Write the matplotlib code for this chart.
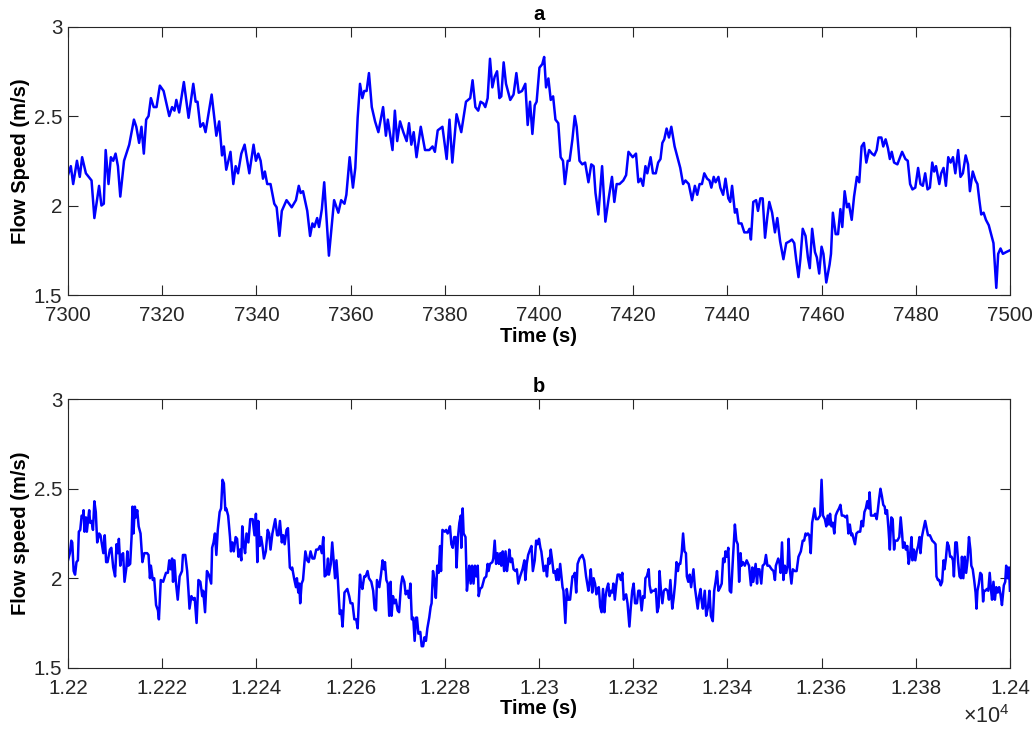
import matplotlib
matplotlib.use('Agg')
import matplotlib.pyplot as plt
from matplotlib.ticker import FuncFormatter

# flow speed trace, panel a: (time s, speed m/s)
flow_a = [
    (7300.0, 2.17), (7300.6, 2.22), (7301.1, 2.12), (7301.9, 2.25), (7302.5, 2.16),
    (7303.0, 2.27), (7303.8, 2.18), (7305.0, 2.14), (7305.6, 1.93), (7306.6, 2.11),
    (7307.1, 2.00), (7307.6, 2.01), (7308.0, 2.31), (7308.6, 2.12), (7309.1, 2.27),
    (7309.6, 2.25), (7310.1, 2.29), (7310.6, 2.22), (7311.1, 2.05), (7311.9, 2.25),
    (7313.0, 2.34), (7314.0, 2.48), (7314.5, 2.44), (7315.1, 2.35), (7315.6, 2.44),
    (7316.1, 2.29), (7316.6, 2.48), (7317.1, 2.50), (7317.6, 2.60), (7318.2, 2.55),
    (7318.8, 2.55), (7319.5, 2.67), (7320.3, 2.64), (7321.5, 2.50), (7322.1, 2.55),
    (7322.6, 2.53), (7323.0, 2.59), (7323.6, 2.52), (7324.6, 2.69), (7325.6, 2.49),
    (7326.6, 2.68), (7327.1, 2.58), (7327.5, 2.58), (7328.1, 2.44), (7328.7, 2.46),
    (7329.2, 2.41), (7330.5, 2.62), (7331.5, 2.39), (7332.1, 2.47), (7332.7, 2.28),
    (7333.1, 2.33), (7333.6, 2.20), (7334.5, 2.30), (7335.1, 2.12), (7335.6, 2.22),
    (7336.1, 2.18), (7336.8, 2.29), (7337.5, 2.34), (7338.5, 2.18), (7339.4, 2.34),
    (7339.9, 2.25), (7340.4, 2.29), (7340.9, 2.25), (7341.4, 2.15), (7341.8, 2.19),
    (7342.3, 2.12), (7343.0, 2.12), (7343.8, 2.01), (7344.3, 1.99), (7344.9, 1.83),
    (7345.4, 1.97), (7346.4, 2.03), (7347.5, 1.99), (7348.4, 2.03), (7349.0, 2.11),
    (7349.4, 2.07), (7349.9, 2.08), (7350.8, 1.97), (7351.4, 1.83), (7351.9, 1.90),
    (7352.3, 1.88), (7352.9, 1.93), (7353.3, 1.88), (7353.9, 1.98), (7354.4, 2.13),
    (7355.4, 1.72), (7356.5, 2.03), (7357.4, 1.96), (7358.0, 2.03), (7358.7, 2.01),
    (7359.1, 2.06), (7359.8, 2.27), (7360.5, 2.10), (7361.0, 2.21), (7361.5, 2.49),
    (7362.0, 2.68), (7362.5, 2.60), (7362.9, 2.64), (7363.4, 2.64), (7363.9, 2.74),
    (7364.5, 2.55), (7365.2, 2.47), (7365.9, 2.41), (7366.9, 2.55), (7367.5, 2.39),
    (7367.9, 2.48), (7368.9, 2.31), (7369.4, 2.53), (7369.9, 2.36), (7370.5, 2.47),
    (7371.2, 2.41), (7371.9, 2.36), (7372.4, 2.46), (7372.9, 2.34), (7373.4, 2.41),
    (7374.0, 2.27), (7374.9, 2.44), (7375.8, 2.31), (7376.7, 2.31), (7377.4, 2.33),
    (7377.9, 2.30), (7378.5, 2.42), (7379.5, 2.44), (7380.4, 2.26), (7381.0, 2.48),
    (7381.6, 2.24), (7382.5, 2.51), (7383.5, 2.41), (7384.5, 2.58), (7385.4, 2.60),
    (7385.9, 2.70), (7386.5, 2.55), (7387.1, 2.53), (7387.6, 2.58), (7388.2, 2.57),
    (7388.6, 2.55), (7389.1, 2.60), (7389.6, 2.82), (7390.1, 2.66), (7390.6, 2.72),
    (7391.1, 2.75), (7391.6, 2.60), (7392.0, 2.61), (7392.5, 2.80), (7393.0, 2.68),
    (7393.9, 2.59), (7394.6, 2.62), (7395.2, 2.74), (7395.7, 2.63), (7396.4, 2.64),
    (7397.1, 2.68), (7397.6, 2.45), (7398.1, 2.58), (7398.6, 2.40), (7399.1, 2.56),
    (7399.5, 2.58), (7400.1, 2.77), (7400.7, 2.79), (7401.1, 2.83), (7401.5, 2.66),
    (7402.0, 2.71), (7402.5, 2.59), (7403.0, 2.61), (7403.5, 2.48), (7404.1, 2.46),
    (7404.6, 2.27), (7405.1, 2.25), (7405.5, 2.12), (7406.1, 2.25), (7406.5, 2.25),
    (7407.1, 2.37), (7407.6, 2.50), (7408.0, 2.44), (7408.6, 2.25), (7409.2, 2.23),
    (7409.8, 2.24), (7410.5, 2.13), (7411.1, 2.23), (7411.6, 2.22), (7412.0, 2.07),
    (7412.6, 1.95), (7413.4, 2.22), (7414.1, 1.91), (7414.8, 2.04), (7415.5, 2.16),
    (7416.0, 2.02), (7416.5, 2.12), (7417.1, 2.12), (7417.9, 2.14), (7418.5, 2.17),
    (7419.0, 2.30), (7419.6, 2.28), (7419.9, 2.27), (7420.6, 2.29), (7421.1, 2.13),
    (7421.6, 2.15), (7422.1, 2.11), (7422.6, 2.22), (7423.0, 2.18), (7423.7, 2.27),
    (7424.2, 2.18), (7424.8, 2.18), (7425.3, 2.24), (7425.8, 2.26), (7426.2, 2.35),
    (7426.6, 2.37), (7427.1, 2.43), (7427.6, 2.38), (7428.1, 2.44), (7428.8, 2.33),
    (7429.5, 2.26), (7430.0, 2.21), (7430.6, 2.12), (7431.1, 2.14), (7431.8, 2.12),
    (7432.5, 2.03), (7433.1, 2.11), (7433.6, 2.06), (7434.1, 2.12), (7434.6, 2.12),
    (7435.1, 2.18), (7435.7, 2.15), (7436.2, 2.14), (7436.6, 2.10), (7437.1, 2.16),
    (7437.5, 2.13), (7438.1, 2.16), (7438.5, 2.10), (7439.1, 2.06), (7439.6, 2.15),
    (7440.2, 2.04), (7440.6, 2.02), (7441.0, 2.11), (7441.6, 1.96), (7442.0, 1.98),
    (7442.4, 1.90), (7443.0, 1.90), (7443.6, 1.85), (7444.3, 1.85), (7444.7, 1.87),
    (7445.0, 1.81), (7445.5, 2.02), (7446.1, 2.03), (7446.5, 1.97), (7447.0, 2.04),
    (7447.5, 2.04), (7448.0, 1.82), (7448.5, 1.94), (7448.9, 2.02), (7449.5, 1.96),
    (7450.1, 1.85), (7450.6, 1.93), (7451.2, 1.80), (7451.9, 1.70), (7452.5, 1.79),
    (7453.2, 1.80), (7453.7, 1.81), (7454.2, 1.79), (7454.6, 1.70), (7455.1, 1.60),
    (7455.5, 1.70), (7456.0, 1.87), (7456.6, 1.83), (7457.1, 1.71), (7457.5, 1.65),
    (7458.0, 1.87), (7458.6, 1.74), (7459.0, 1.71), (7459.5, 1.62), (7460.0, 1.77),
    (7460.4, 1.73), (7461.0, 1.57), (7461.7, 1.67), (7462.0, 1.73), (7462.4, 1.96),
    (7463.0, 1.84), (7463.5, 1.84), (7464.0, 1.98), (7464.4, 1.88), (7464.9, 2.08),
    (7465.4, 1.99), (7465.8, 2.01), (7466.4, 1.92), (7466.9, 2.05), (7467.5, 2.16),
    (7468.0, 2.13), (7468.5, 2.33), (7469.0, 2.35), (7469.5, 2.24), (7470.1, 2.31),
    (7470.7, 2.29), (7471.2, 2.28), (7471.7, 2.31), (7472.1, 2.38), (7472.7, 2.38),
    (7473.1, 2.33), (7473.6, 2.37), (7474.1, 2.32), (7474.5, 2.26), (7474.9, 2.30),
    (7475.4, 2.24), (7476.1, 2.23), (7477.1, 2.30), (7477.8, 2.26), (7478.3, 2.25),
    (7478.8, 2.12), (7479.3, 2.09), (7479.9, 2.10), (7480.5, 2.21), (7481.0, 2.12),
    (7481.5, 2.11), (7482.0, 2.18), (7482.5, 2.09), (7483.0, 2.10), (7483.5, 2.24),
    (7483.9, 2.19), (7484.3, 2.22), (7485.0, 2.12), (7485.4, 2.18), (7485.9, 2.21),
    (7486.4, 2.11), (7486.9, 2.27), (7487.4, 2.24), (7487.9, 2.27), (7488.4, 2.18),
    (7489.0, 2.31), (7489.5, 2.16), (7490.0, 2.18), (7490.6, 2.28), (7491.1, 2.23),
    (7491.5, 2.08), (7492.1, 2.19), (7492.7, 2.14), (7493.1, 2.12), (7493.5, 2.03),
    (7493.9, 1.95), (7494.4, 1.96), (7494.9, 1.92), (7495.5, 1.89), (7496.0, 1.84),
    (7496.5, 1.79), (7497.1, 1.54), (7497.5, 1.73), (7498.0, 1.76), (7498.5, 1.73),
    (7499.2, 1.74), (7500.0, 1.75),
]

# flow speed trace, panel b: (time s, speed m/s)
flow_b = [
    (12200.0, 2.10), (12200.4, 2.14), (12200.7, 2.21), (12200.9, 2.20), (12201.2, 2.04),
    (12201.5, 2.02), (12201.8, 2.09), (12202.1, 2.10), (12202.3, 2.26), (12202.6, 2.27),
    (12202.9, 2.35), (12203.2, 2.34), (12203.3, 2.38), (12203.5, 2.26), (12203.8, 2.34),
    (12204.0, 2.26), (12204.3, 2.33), (12204.5, 2.38), (12204.7, 2.31), (12205.0, 2.32),
    (12205.3, 2.27), (12205.6, 2.43), (12205.9, 2.37), (12206.2, 2.20), (12206.6, 2.25),
    (12206.9, 2.24), (12207.2, 2.19), (12207.5, 2.14), (12207.8, 2.24), (12208.1, 2.09),
    (12208.4, 2.09), (12208.9, 2.16), (12209.2, 2.17), (12209.6, 2.06), (12210.0, 2.01),
    (12210.3, 2.19), (12210.6, 2.14), (12210.8, 2.22), (12211.1, 2.07), (12211.4, 2.13),
    (12211.7, 2.14), (12212.0, 1.98), (12212.4, 2.06), (12212.6, 2.15), (12212.8, 2.07),
    (12213.2, 2.08), (12213.5, 2.23), (12213.7, 2.40), (12213.9, 2.25), (12214.2, 2.40),
    (12214.4, 2.34), (12214.7, 2.38), (12215.0, 2.29), (12215.4, 2.25), (12215.8, 2.09),
    (12216.2, 2.14), (12216.8, 2.14), (12217.1, 2.13), (12217.4, 2.00), (12217.6, 2.07),
    (12218.0, 1.99), (12218.3, 2.00), (12218.7, 1.85), (12219.1, 1.82), (12219.3, 1.77),
    (12219.7, 1.99), (12220.2, 1.98), (12220.8, 2.03), (12221.2, 2.03), (12221.5, 2.10),
    (12221.8, 2.05), (12222.1, 2.11), (12222.3, 1.98), (12222.6, 2.10), (12222.9, 1.98),
    (12223.3, 1.88), (12223.7, 2.01), (12224.2, 2.04), (12224.4, 2.13), (12224.9, 2.13),
    (12225.3, 2.04), (12225.6, 1.92), (12225.8, 1.83), (12226.2, 1.90), (12226.6, 1.88),
    (12226.9, 1.89), (12227.3, 1.75), (12227.7, 1.99), (12228.1, 1.98), (12228.5, 1.90),
    (12228.7, 1.93), (12229.1, 1.81), (12229.5, 2.04), (12229.9, 2.02), (12230.4, 1.97),
    (12230.6, 2.17), (12230.9, 2.20), (12231.2, 2.25), (12231.5, 2.13), (12231.8, 2.27),
    (12232.2, 2.37), (12232.5, 2.39), (12232.8, 2.55), (12233.1, 2.53), (12233.4, 2.38),
    (12233.6, 2.39), (12234.0, 2.35), (12234.4, 2.23), (12234.6, 2.15), (12234.9, 2.20),
    (12235.2, 2.15), (12235.6, 2.23), (12235.9, 2.22), (12236.2, 2.12), (12236.5, 2.16),
    (12236.8, 2.10), (12237.0, 2.29), (12237.3, 2.19), (12237.6, 2.14), (12237.9, 2.25),
    (12238.3, 2.20), (12238.7, 2.33), (12239.2, 2.33), (12239.6, 2.24), (12239.9, 2.36),
    (12240.2, 2.09), (12240.4, 2.32), (12240.7, 2.18), (12241.0, 2.23), (12241.3, 2.18),
    (12241.6, 2.11), (12242.0, 2.15), (12242.4, 2.27), (12242.7, 2.25), (12243.0, 2.16),
    (12243.4, 2.25), (12244.0, 2.33), (12244.4, 2.24), (12244.7, 2.24), (12245.0, 2.32),
    (12245.4, 2.20), (12245.7, 2.24), (12246.0, 2.19), (12246.4, 2.27), (12246.7, 2.28),
    (12247.1, 2.06), (12247.4, 2.05), (12247.6, 2.06), (12248.0, 2.00), (12248.4, 1.95),
    (12248.6, 2.00), (12248.9, 1.92), (12249.1, 1.97), (12249.3, 1.86), (12249.6, 1.97),
    (12249.9, 1.99), (12250.4, 2.15), (12250.8, 2.10), (12251.1, 2.09), (12251.5, 2.15),
    (12251.9, 2.11), (12252.3, 2.11), (12252.7, 2.16), (12253.1, 2.16), (12253.5, 2.18),
    (12253.9, 2.14), (12254.2, 2.23), (12254.5, 2.01), (12254.9, 2.02), (12255.2, 2.11),
    (12255.4, 2.02), (12255.8, 2.08), (12256.1, 2.20), (12256.4, 2.10), (12256.7, 2.00),
    (12257.0, 2.10), (12257.3, 1.99), (12257.7, 1.80), (12258.0, 1.82), (12258.3, 1.73),
    (12258.7, 1.92), (12259.0, 1.93), (12259.3, 1.94), (12259.7, 1.90), (12260.0, 1.86),
    (12260.4, 1.86), (12260.8, 1.77), (12261.2, 1.77), (12261.5, 1.72), (12262.0, 2.02),
    (12262.2, 1.97), (12262.5, 1.94), (12262.9, 2.01), (12263.2, 2.01), (12263.6, 2.04),
    (12263.9, 2.00), (12264.4, 1.98), (12264.8, 1.93), (12265.1, 1.83), (12265.4, 1.82),
    (12265.6, 1.99), (12266.1, 1.95), (12266.5, 2.03), (12266.8, 2.10), (12267.1, 2.05),
    (12267.3, 2.09), (12267.6, 1.99), (12267.9, 1.97), (12268.2, 1.79), (12268.5, 1.98),
    (12268.7, 1.79), (12269.0, 1.90), (12269.3, 1.86), (12269.6, 1.88), (12270.0, 1.82),
    (12270.3, 1.81), (12270.7, 1.96), (12271.0, 2.01), (12271.4, 1.98), (12271.7, 1.91),
    (12272.1, 1.93), (12272.4, 1.89), (12272.7, 1.97), (12273.0, 1.77), (12273.3, 1.78),
    (12273.6, 1.65), (12273.9, 1.78), (12274.1, 1.78), (12274.4, 1.69), (12274.8, 1.70),
    (12275.1, 1.62), (12275.4, 1.62), (12275.7, 1.67), (12276.0, 1.65), (12276.3, 1.72),
    (12276.7, 1.78), (12277.0, 1.84), (12277.2, 1.86), (12277.5, 2.04), (12277.8, 1.99),
    (12278.1, 1.89), (12278.4, 2.07), (12278.7, 2.03), (12279.0, 2.18), (12279.2, 2.04),
    (12279.5, 2.27), (12280.0, 2.26), (12280.3, 2.27), (12280.6, 2.25), (12280.8, 2.26),
    (12281.1, 2.29), (12281.4, 2.19), (12281.7, 2.17), (12282.0, 2.23), (12282.3, 2.23),
    (12282.5, 2.06), (12282.8, 2.23), (12283.1, 2.31), (12283.4, 2.35), (12283.5, 2.17),
    (12283.8, 2.39), (12284.0, 2.25), (12284.4, 2.23), (12284.7, 1.93), (12285.0, 2.01),
    (12285.2, 2.07), (12285.5, 1.97), (12285.8, 2.07), (12286.1, 1.97), (12286.4, 2.07),
    (12286.7, 2.01), (12287.0, 2.07), (12287.2, 1.90), (12287.5, 1.94), (12287.9, 1.95),
    (12288.4, 2.00), (12288.8, 2.01), (12289.1, 2.08), (12289.3, 2.04), (12289.6, 2.08),
    (12290.1, 2.09), (12290.3, 2.11), (12290.6, 2.21), (12290.9, 2.08), (12291.2, 2.14),
    (12291.5, 2.08), (12291.8, 2.14), (12292.0, 2.07), (12292.3, 2.15), (12292.6, 2.04),
    (12292.9, 2.15), (12293.2, 2.04), (12293.5, 2.10), (12293.7, 2.16), (12294.0, 2.09),
    (12294.3, 2.11), (12294.6, 2.05), (12295.0, 2.04), (12295.3, 2.05), (12295.6, 1.97),
    (12296.0, 2.01), (12296.5, 2.05), (12296.9, 2.10), (12297.1, 1.99), (12297.4, 2.08),
    (12297.7, 2.13), (12298.1, 2.16), (12298.4, 2.18), (12298.7, 2.04), (12299.1, 2.10),
    (12299.4, 2.21), (12299.7, 2.19), (12300.0, 2.22), (12300.3, 2.17), (12300.5, 2.15),
    (12301.0, 2.04), (12301.4, 2.07), (12301.7, 2.01), (12302.0, 2.11), (12302.2, 2.08),
    (12302.5, 2.16), (12302.8, 2.10), (12303.1, 2.03), (12303.4, 2.04), (12303.7, 1.99),
    (12303.9, 2.05), (12304.2, 1.99), (12304.5, 2.08), (12305.0, 1.95), (12305.2, 1.93),
    (12305.6, 1.75), (12305.9, 1.94), (12306.2, 1.88), (12306.6, 1.88), (12307.1, 2.01),
    (12307.3, 2.01), (12307.6, 2.03), (12307.9, 1.92), (12308.2, 2.08), (12308.6, 2.11),
    (12309.2, 2.13), (12309.6, 2.10), (12310.0, 2.01), (12310.5, 1.93), (12310.7, 1.97),
    (12311.0, 2.05), (12311.3, 1.92), (12311.6, 2.00), (12311.9, 1.97), (12312.2, 1.91),
    (12312.4, 1.94), (12312.7, 1.95), (12313.0, 1.84), (12313.3, 1.81), (12313.6, 1.94),
    (12313.9, 1.81), (12314.1, 1.89), (12314.4, 1.94), (12314.7, 1.97), (12315.0, 1.90),
    (12315.3, 1.93), (12315.6, 1.92), (12315.8, 1.97), (12316.1, 1.88), (12316.4, 1.96),
    (12316.7, 2.02), (12317.1, 2.02), (12317.4, 1.99), (12317.7, 2.03), (12318.0, 1.88),
    (12318.3, 1.90), (12318.5, 1.91), (12318.8, 1.86), (12319.2, 1.73), (12319.5, 1.84),
    (12319.8, 1.93), (12320.1, 1.97), (12320.4, 1.86), (12320.8, 1.86), (12321.1, 1.93),
    (12321.4, 1.93), (12321.8, 1.82), (12322.1, 1.90), (12322.4, 1.89), (12322.6, 2.00),
    (12322.9, 2.01), (12323.3, 2.05), (12323.5, 1.96), (12323.8, 1.92), (12324.1, 1.93),
    (12324.5, 1.93), (12324.8, 1.94), (12325.1, 1.81), (12325.4, 1.84), (12325.6, 2.04),
    (12325.9, 1.93), (12326.2, 1.86), (12326.5, 1.93), (12326.9, 1.94), (12327.3, 1.93),
    (12327.6, 1.88), (12327.9, 1.99), (12328.3, 1.83), (12328.6, 1.89), (12328.9, 1.97),
    (12329.2, 2.09), (12329.5, 2.04), (12329.7, 2.08), (12330.0, 2.08), (12330.3, 2.14),
    (12330.6, 2.25), (12330.9, 2.15), (12331.2, 2.14), (12331.4, 2.01), (12331.7, 1.98),
    (12332.0, 2.02), (12332.3, 1.95), (12332.6, 2.01), (12332.8, 2.05), (12333.1, 1.95),
    (12333.4, 1.89), (12333.7, 1.83), (12334.0, 1.90), (12334.3, 1.94), (12334.5, 1.88),
    (12334.8, 1.83), (12335.2, 1.93), (12335.5, 1.79), (12335.9, 1.84), (12336.2, 1.93),
    (12336.5, 1.79), (12336.9, 1.76), (12337.2, 1.93), (12337.5, 1.98), (12337.8, 2.04),
    (12338.1, 1.93), (12338.5, 1.95), (12338.8, 1.97), (12339.1, 2.11), (12339.4, 2.09),
    (12339.6, 2.15), (12339.9, 2.12), (12340.2, 2.17), (12340.5, 1.93), (12340.8, 1.92),
    (12341.2, 2.12), (12341.6, 2.30), (12341.9, 2.21), (12342.2, 2.19), (12342.5, 1.98),
    (12342.8, 2.14), (12343.0, 2.07), (12343.3, 2.09), (12343.7, 2.07), (12344.1, 2.10),
    (12344.6, 2.07), (12345.0, 1.96), (12345.3, 2.06), (12345.5, 1.98), (12346.0, 2.08),
    (12346.3, 1.97), (12346.5, 2.05), (12346.8, 2.05), (12347.2, 1.97), (12347.5, 2.07),
    (12347.9, 2.08), (12348.2, 2.13), (12348.5, 2.07), (12348.9, 2.07), (12349.4, 2.05),
    (12349.8, 2.04), (12350.1, 1.99), (12350.3, 2.07), (12350.8, 2.11), (12351.1, 2.08),
    (12351.3, 2.03), (12351.6, 2.20), (12351.9, 1.99), (12352.2, 2.07), (12352.5, 2.03),
    (12352.8, 2.07), (12353.0, 2.22), (12353.3, 2.04), (12353.6, 1.97), (12353.9, 2.05),
    (12354.3, 2.04), (12354.7, 2.04), (12355.1, 2.12), (12355.6, 2.15), (12356.0, 2.21),
    (12356.3, 2.21), (12356.6, 2.25), (12356.8, 2.24), (12357.1, 2.25), (12357.4, 2.24),
    (12357.7, 2.14), (12358.0, 2.31), (12358.2, 2.34), (12358.5, 2.39), (12358.8, 2.33),
    (12359.2, 2.33), (12359.7, 2.35), (12360.0, 2.55), (12360.3, 2.35), (12360.7, 2.33),
    (12361.0, 2.29), (12361.3, 2.35), (12361.6, 2.30), (12361.8, 2.36), (12362.1, 2.29),
    (12362.4, 2.31), (12362.7, 2.25), (12363.0, 2.35), (12363.3, 2.37), (12363.7, 2.39),
    (12364.0, 2.41), (12364.3, 2.35), (12364.7, 2.35), (12365.1, 2.34), (12365.4, 2.35),
    (12365.7, 2.25), (12366.0, 2.30), (12366.3, 2.24), (12366.5, 2.25), (12366.8, 2.22),
    (12367.1, 2.19), (12367.4, 2.25), (12367.8, 2.26), (12368.2, 2.26), (12368.5, 2.32),
    (12368.8, 2.29), (12369.1, 2.37), (12369.4, 2.39), (12369.7, 2.43), (12370.0, 2.39),
    (12370.2, 2.48), (12370.5, 2.35), (12370.8, 2.35), (12371.1, 2.35), (12371.4, 2.36),
    (12371.7, 2.33), (12371.9, 2.37), (12372.2, 2.44), (12372.5, 2.50), (12372.8, 2.46),
    (12373.1, 2.41), (12373.4, 2.40), (12373.6, 2.36), (12373.9, 2.38), (12374.2, 2.28),
    (12374.5, 2.16), (12374.8, 2.34), (12375.1, 2.33), (12375.4, 2.16), (12375.6, 2.21),
    (12376.1, 2.21), (12376.5, 2.23), (12376.8, 2.34), (12377.1, 2.25), (12377.3, 2.17),
    (12377.6, 2.20), (12377.9, 2.16), (12378.2, 2.18), (12378.5, 2.08), (12378.8, 2.13),
    (12379.1, 2.23), (12379.3, 2.10), (12379.6, 2.16), (12379.9, 2.10), (12380.2, 2.15),
    (12380.5, 2.18), (12380.8, 2.23), (12381.0, 2.14), (12381.3, 2.23), (12381.6, 2.27),
    (12382.0, 2.32), (12382.3, 2.28), (12382.6, 2.24), (12383.0, 2.24), (12383.5, 2.21),
    (12383.9, 2.20), (12384.2, 2.19), (12384.4, 2.01), (12384.7, 1.99), (12385.0, 1.99),
    (12385.3, 1.96), (12385.6, 1.98), (12385.9, 2.10), (12386.1, 2.05), (12386.4, 2.11),
    (12386.7, 2.20), (12387.0, 2.18), (12387.3, 2.12), (12387.6, 2.12), (12387.9, 2.10),
    (12388.1, 2.01), (12388.4, 2.20), (12388.7, 2.20), (12389.0, 2.09), (12389.3, 2.01),
    (12389.6, 2.00), (12389.8, 2.12), (12390.1, 2.00), (12390.4, 2.12), (12390.7, 2.03),
    (12391.0, 2.10), (12391.3, 2.23), (12391.6, 2.16), (12391.8, 2.07), (12392.1, 2.05),
    (12392.4, 1.99), (12392.7, 1.92), (12392.9, 1.83), (12393.1, 1.93), (12393.4, 1.97),
    (12393.7, 2.03), (12394.0, 2.02), (12394.3, 1.87), (12394.5, 1.93), (12394.8, 1.93),
    (12395.1, 1.94), (12395.4, 1.93), (12395.7, 2.03), (12396.0, 1.93), (12396.2, 1.88),
    (12396.5, 1.98), (12396.8, 1.88), (12397.1, 1.95), (12397.4, 1.92), (12397.7, 1.95),
    (12398.0, 1.91), (12398.3, 1.85), (12398.7, 1.96), (12399.0, 1.98), (12399.2, 2.07),
    (12399.5, 2.00), (12399.8, 2.06), (12400.0, 1.93),
]

t_a, v_a = zip(*flow_a)
t_b, v_b = zip(*flow_b)

plt.rcParams['font.family'] = ['Liberation Sans', 'DejaVu Sans']
plt.rcParams['mathtext.fontset'] = 'custom'
plt.rcParams['mathtext.rm'] = 'Liberation Sans'
plt.rcParams['mathtext.it'] = 'Liberation Sans:italic'

dark = '#262626'

fig = plt.figure(figsize=(10.35, 7.29), dpi=100)
ax1 = fig.add_axes([0.0657, 0.5953, 0.9101, 0.3683])
ax2 = fig.add_axes([0.0657, 0.0841, 0.9101, 0.3682])


def style(ax):
    ax.tick_params(direction='in', length=7, width=0.8, top=True, right=True,
                   labelsize=14.8, colors=dark)
    ax.tick_params(axis='x', pad=8)
    ax.tick_params(axis='y', pad=4)
    for s in ax.spines.values():
        s.set_color(dark)
        s.set_linewidth(0.8)
    ax.set_ylim(1.5, 3)
    ax.set_yticks([1.5, 2, 2.5, 3])
    ax.yaxis.set_major_formatter(FuncFormatter(lambda v, p: '%g' % v))


# panel a
ax1.plot(t_a, v_a, color=(0, 0, 1), linewidth=1.8)
style(ax1)
ax1.set_xlim(7300, 7500)
ax1.set_xticks(range(7300, 7501, 20))
ax1.set_title('a', fontsize=14.5, fontweight='bold', pad=5)
ax1.set_xlabel('Time (s)', fontsize=14.5, fontweight='bold', labelpad=1)
ax1.set_ylabel('Flow Speed (m/s)', fontsize=14.5, fontweight='bold', labelpad=3)

# panel b
ax2.plot(t_b, v_b, color=(0, 0, 1), linewidth=1.8)
style(ax2)
ax2.set_xlim(12200, 12400)
ax2.set_xticks(range(12200, 12401, 20))
ax2.xaxis.set_major_formatter(FuncFormatter(lambda v, p: '%g' % (v / 1e4)))
ax2.set_title('b', fontsize=14.5, fontweight='bold', pad=5)
ax2.set_xlabel('Time (s)', fontsize=14.5, fontweight='bold', labelpad=1)
ax2.set_ylabel('Flow speed (m/s)', fontsize=14.5, fontweight='bold', labelpad=3)
ax2.text(1.0, -0.225, r'$\times10^{4}$', transform=ax2.transAxes, ha='right',
         va='bottom', fontsize=15.5, color=dark)

fig.savefig('out.png', dpi=100)
